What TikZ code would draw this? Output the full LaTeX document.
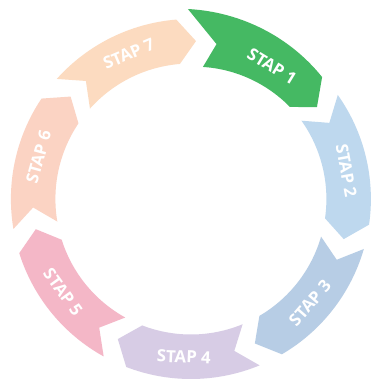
\documentclass[tikz,border=0pt]{standalone}
\usepackage{fontspec}
\setmainfont{Open Sans}
\begin{document}
\begin{tikzpicture}[x=1pt,y=1pt]
\definecolor{c1}{RGB}{69,185,99}
\definecolor{c2}{RGB}{190,216,238}
\definecolor{c3}{RGB}{183,205,229}
\definecolor{c4}{RGB}{215,204,229}
\definecolor{c5}{RGB}{244,183,199}
\definecolor{c6}{RGB}{251,211,195}
\definecolor{c7}{RGB}{252,219,192}
\tikzset{lbl/.style={text=white, inner sep=0pt, font=\bfseries\fontsize{16.8}{17}\selectfont}}
\fill[white] (0,0) rectangle (374,382);
\useasboundingbox (0,0) rectangle (374,382);
\begin{scope}[shift={(190.9,183)}]
  % steps 2 to 7: equal chevron arcs, clockwise
  \foreach \k/\col in {2/c2,3/c3,4/c4,5/c5,6/c6,7/c7} {
    \pgfmathsetmacro\T{35.3-51.4286*(\k-2)}
    \pgfmathsetmacro\H{\T-43.5}
    \pgfmathsetmacro\Tn{\T-6.5}
    \pgfmathsetmacro\Hn{\H-6.5}
    \pgfmathsetmacro\A{\T-25}
    \pgfmathsetmacro\rot{sin(\A)>0 ? \A-90 : \A+90}
    \fill[\col] (\T:180pt) arc[start angle=\T, end angle=\H, radius=180pt]
      -- (\Hn:158pt) -- (\H:135.5pt)
      arc[start angle=\H, end angle=\T, radius=135.5pt]
      -- (\Tn:158pt) -- cycle;
    \node[lbl, rotate=\rot] (s\k) at (\A:158pt) {STAP \k};
  }
  % step 1: highlighted, slightly larger at its tail
  \fill[c1] plot[domain=90.9:42.9, samples=60]
      ({(190-10.9*(90.9-\x)/48)*cos(\x)}, {(190-10.9*(90.9-\x)/48)*sin(\x)})
    -- (36.1:156pt) -- (42.9:135.2pt)
    -- plot[domain=42.9:84.8, samples=60]
      ({(135.2-2.6*(\x-42.9)/41.9)*cos(\x)}, {(135.2-2.6*(\x-42.9)/41.9)*sin(\x)})
    -- (80.6:157pt) -- cycle;
  \node[lbl, rotate=-31.4] (s1) at (58.6:155.7pt) {STAP 1};
\end{scope}
\end{tikzpicture}
\end{document}
